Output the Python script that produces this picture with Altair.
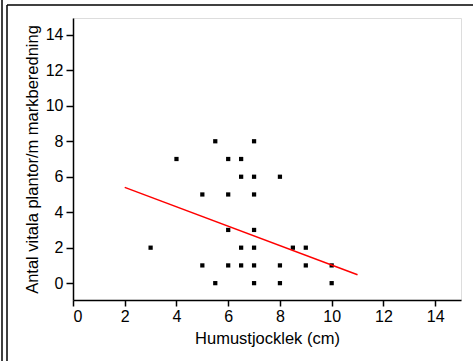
import altair as alt
import pandas as pd

# Scatter data: humus thickness (cm) vs number of vital plants
humus = [5.5, 7, 4, 6, 6.5, 6.5, 7, 8, 5, 6, 7, 6, 7, 3, 6.5, 7, 8.5, 9,
         5, 6, 6.5, 7, 8, 9, 10, 5.5, 7, 8, 10]
plants = [8, 8, 7, 7, 7, 6, 6, 6, 5, 5, 5, 3, 3, 2, 2, 2, 2, 2,
          1, 1, 1, 1, 1, 1, 1, 0, 0, 0, 0]

# Regression line endpoints
fit_x = [2, 11]
fit_y = [5.4, 0.47]

pts = pd.DataFrame({"x": humus, "y": plants})
fit = pd.DataFrame({"x": fit_x, "y": fit_y})

FONT = "Liberation Sans"

xscale = alt.Scale(domain=[0, 15], nice=False, zero=False)
yscale = alt.Scale(domain=[-0.95, 14.95], nice=False, zero=False)

xaxis = alt.Axis(values=[0, 2, 4, 6, 8, 10, 12, 14], title="Humustjocklek (cm)",
                 grid=False, domain=True, domainColor="black", domainWidth=1.5,
                 tickColor="black", tickSize=6, tickWidth=1.5, labelFontSize=16,
                 labelFont=FONT, labelColor="black", labelPadding=2,
                 titleFont=FONT, titleFontSize=16.5, titleFontWeight="normal",
                 titleColor="black", titlePadding=6)
yaxis = alt.Axis(values=[0, 2, 4, 6, 8, 10, 12, 14],
                 title="Antal vitala plantor/m markberedning",
                 grid=False, domain=True, domainColor="black", domainWidth=1.5,
                 tickColor="black", tickSize=7, tickWidth=1.5, labelFontSize=16,
                 labelFont=FONT, labelColor="black", labelPadding=3,
                 titleFont=FONT, titleFontSize=16.5, titleFontWeight="normal",
                 titleColor="black", titlePadding=5)

points = alt.Chart(pts).mark_square(size=18, color="black", opacity=1, filled=True).encode(
    x=alt.X("x:Q", scale=xscale, axis=xaxis),
    y=alt.Y("y:Q", scale=yscale, axis=yaxis),
)

line = alt.Chart(fit).mark_line(color="red", strokeWidth=1.5).encode(
    x=alt.X("x:Q", scale=xscale),
    y=alt.Y("y:Q", scale=yscale),
)

# decorative outer frame lines
frame_df = pd.DataFrame({"k": [0]})
left1 = alt.Chart(frame_df).mark_rule(color="black", strokeWidth=1.5).encode(
    x=alt.value(-71), y=alt.value(-18), y2=alt.value(343))
left2 = alt.Chart(frame_df).mark_rule(color="black", strokeWidth=1.5).encode(
    x=alt.value(-66), y=alt.value(-13), y2=alt.value(343))
top = alt.Chart(frame_df).mark_rule(color="black", strokeWidth=1.5).encode(
    x=alt.value(-66), x2=alt.value(400), y=alt.value(-13))

chart = alt.layer(points, line, left1, left2, top).properties(
    width=388, height=282,
    autosize=alt.AutoSizeParams(type="none"),
    padding={"left": 73, "top": 18, "right": 12, "bottom": 61},
).configure_view(stroke="black", strokeWidth=1.5).configure(background="white")

chart.save("out.html", embed_options={"renderer": "svg", "actions": False})
